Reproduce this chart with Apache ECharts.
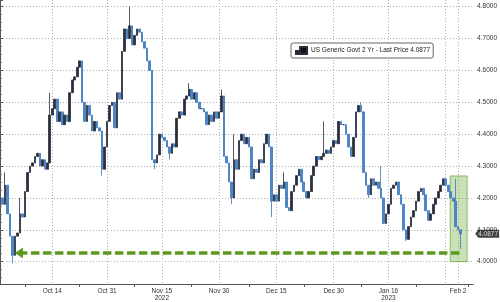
<!DOCTYPE html>
<html><head><meta charset="utf-8">
<script src="https://cdn.jsdelivr.net/npm/echarts@6/dist/echarts.min.js"></script>
<style>html,body{margin:0;padding:0;background:#fff}#c{width:500px;height:302px}</style>
</head><body><div id="c"></div>
<script>
// ---- data ----
const seriesName = 'US Generic Govt 2 Yr - Last Price 4.0877';
const lastPrice = 4.0877;
const closes = [
 4.20,4.18,4.24,4.15,4.08,4.02,4.08,4.09,4.15,4.14,
 4.22,4.28,4.30,4.31,4.33,4.34,4.30,4.32,4.29,4.31,
 4.46,4.48,4.51,4.44,4.47,4.43,4.46,4.44,4.53,4.57,
 4.58,4.61,4.63,4.50,4.44,4.49,4.46,4.41,4.44,4.42,
 4.41,4.29,4.36,4.44,4.49,4.50,4.42,4.53,4.51,4.66,
 4.73,4.70,4.74,4.68,4.71,4.73,4.72,4.69,4.67,4.63,
 4.60,4.32,4.31,4.335,4.40,4.39,4.38,4.36,4.34,4.37,
 4.36,4.45,4.47,4.46,4.51,4.52,4.54,4.51,4.53,4.50,
 4.48,4.48,4.47,4.43,4.46,4.44,4.47,4.45,4.47,4.52,
 4.33,4.31,4.25,4.20,4.32,4.29,4.38,4.40,4.37,4.39,
 4.36,4.26,4.29,4.28,4.32,4.31,4.37,4.40,4.36,4.19,
 4.21,4.19,4.24,4.23,4.25,4.17,4.16,4.22,4.24,4.27,
 4.29,4.25,4.22,4.20,4.22,4.27,4.30,4.33,4.32,4.33,
 4.34,4.35,4.34,4.36,4.38,4.37,4.44,4.43,4.43,4.40,
 4.36,4.33,4.39,4.47,4.49,4.47,4.28,4.24,4.21,4.26,
 4.24,4.25,4.23,4.20,4.12,4.15,4.18,4.23,4.24,4.25,
 4.21,4.18,4.10,4.07,4.11,4.14,4.16,4.19,4.22,4.23,
 4.21,4.16,4.13,4.15,4.18,4.20,4.22,4.24,4.26,4.24,
 4.22,4.20,4.19,4.11,4.10,4.0877
];
const spikeIdx = [2,5,8,20,41,52,62,68,76,89,93,94,109,114,130,145,148,153,163,183,185];
const spikeVal = [4.28,3.995,4.20,4.53,4.27,4.80,4.29,4.32,4.56,4.54,4.18,4.40,4.14,4.28,4.44,4.50,4.20,4.30,4.065,4.26,4.04];
const tickLabels = ['Oct 14','Oct 31','Nov 15\n2022','Nov 30','Dec 15','Dec 30','Jan 16\n2023','Feb 2'];
const tickLabelIdx = [21,43,65,88,111,134,156,184];
const extraGridIdx = [179];
const minorTickIdx = [10,32,54,77,100,122,145,167,188];
const categoryCount = 191;
const supportLevel = 4.027;
const arrowSpan = [7.6, 184.8];
const boxSpan = [180.8, 187.6];
const boxLevels = [4.0, 4.269];

// ---- build ----
const categories = [];
for (let i = 0; i < categoryCount; i++) categories.push(String(i));
const labelMap = {};
tickLabelIdx.forEach((k, j) => labelMap[k] = tickLabels[j]);
const spikeMap = {};
spikeIdx.forEach((k, j) => spikeMap[k] = spikeVal[j]);
const candles = closes.map((c, i) => {
  const o = i ? closes[i - 1] : c;
  let lo = Math.min(o, c), hi = Math.max(o, c);
  if (spikeMap[i] !== undefined) { lo = Math.min(lo, spikeMap[i]); hi = Math.max(hi, spikeMap[i]); }
  return [o, c, lo, hi];
});

const chart = echarts.init(document.getElementById('c'), null, {renderer: 'canvas'});
const font = 'Liberation Sans, Arial, sans-serif';
chart.setOption({
  animation: false,
  backgroundColor: '#fff',
  grid: {left: 0, right: 25.5, top: 0, bottom: 17, containLabel: false},
  legend: {
    show: true, selectedMode: false, left: 291, top: 43,
    data: [{name: seriesName, icon: 'path://M0,4h3v3h-3zM4,0h7v7h-7z', itemStyle: {color: '#111'}}],
    itemWidth: 11, itemHeight: 7, itemGap: 4,
    textStyle: {fontSize: 6.5, color: '#222', fontFamily: font, padding: [0,0,0,-1]},
    backgroundColor: '#fff', borderColor: '#666', borderWidth: 1, borderRadius: 2,
    padding: [3, 3, 3, 4]
  },
  xAxis: [{
    type: 'category', data: categories, boundaryGap: false,
    axisLine: {show: true, lineStyle: {color: '#555', width: 1}},
    axisTick: {show: true, interval: (i) => minorTickIdx.includes(i), length: 3, lineStyle: {color: '#555'}},
    axisLabel: {interval: (i) => tickLabelIdx.includes(i), formatter: (v, i) => labelMap[i] || '',
      fontSize: 6.5, color: '#333', fontFamily: font, margin: 3, lineHeight: 7.5},
    splitLine: {show: true, interval: (i) => tickLabelIdx.includes(i) || extraGridIdx.includes(i),
      lineStyle: {type: [1, 2], color: '#b0b0b0', width: 1}}
  }, {
    type: 'value', min: 0, max: categoryCount - 1, show: false
  }],
  yAxis: {
    type: 'value', position: 'right', min: 3.93, max: 4.821, splitNumber: 9, scale: true,
    axisLine: {show: true, lineStyle: {color: '#555'}},
    axisTick: {show: true, length: 3, lineStyle: {color: '#555'}},
    minorTick: {show: true, splitNumber: 4, length: 2, lineStyle: {color: '#777'}},
    axisLabel: {showMinLabel: false, showMaxLabel: false, fontSize: 6.5, color: '#333', fontFamily: font, margin: 4,
      formatter: (v) => Math.abs(v * 10 - Math.round(v * 10)) < 1e-6 ? v.toFixed(4) : ''},
    splitLine: {show: true, showMinLine: false, showMaxLine: false, lineStyle: {type: [1, 2], color: '#b0b0b0'}}
  },
  series: [{
    name: seriesName, type: 'candlestick', data: candles, barWidth: '85%',
    itemStyle: {color: '#2b2e3c', color0: '#4a88cc', borderColor: '#2b2e3c', borderColor0: '#3b76bb', borderWidth: 0.8}
  }, {
    name: 'support', type: 'line', xAxisIndex: 1, symbol: 'none', showSymbol: true, z: 5,
    data: [
      {value: [arrowSpan[0], supportLevel], symbol: 'triangle', symbolSize: [11, 8], symbolRotate: 90,
        itemStyle: {color: '#5b9a1f'}},
      {value: [arrowSpan[1], supportLevel], symbol: 'none'}
    ],
    lineStyle: {color: '#5b9a1f', width: 3.5, type: [8.5, 3.5], cap: 'butt'},
    itemStyle: {color: '#5b9a1f'},
    markArea: {silent: true,
      itemStyle: {color: 'rgba(128,180,80,0.42)', borderColor: 'rgba(110,160,60,0.7)', borderWidth: 1},
      data: [[{coord: [boxSpan[0], boxLevels[1]]}, {coord: [boxSpan[1], boxLevels[0]]}]]}
  }, {
    name: 'last', type: 'scatter', xAxisIndex: 1, z: 10, silent: true, clip: false,
    data: [[categoryCount - 1, lastPrice]],
    symbol: 'path://M0,4L4,0H30V8H4Z', symbolSize: [24, 8], symbolOffset: [14, 0],
    itemStyle: {color: '#111'},
    label: {show: true, position: 'inside', formatter: () => lastPrice.toFixed(4), color: '#fff', fontSize: 6.5, fontFamily: font, offset: [1, 0]}
  }]
});
</script></body></html>
